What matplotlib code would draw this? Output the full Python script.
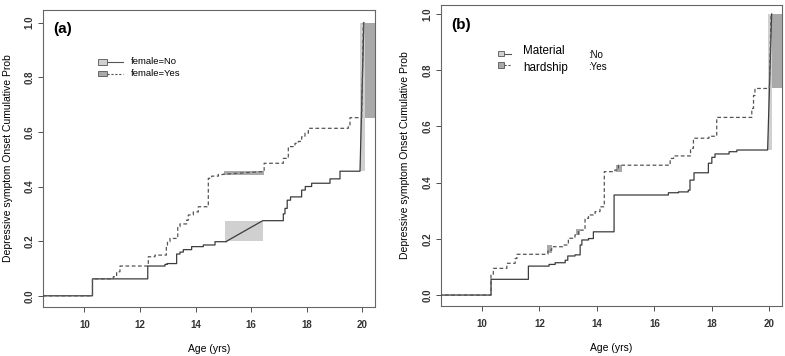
import matplotlib
matplotlib.use("Agg")
import matplotlib.pyplot as plt
from matplotlib.patches import Rectangle
from matplotlib.lines import Line2D

plt.rcParams["font.family"] = ["Liberation Sans", "DejaVu Sans"]

# panel (a): female = No / Yes  (step times, cumulative prob)
a_no_t = [8.5, 10.29, 12.28, 12.9, 12.98, 13.32, 13.44, 13.56, 13.86, 14.28, 14.7, 15.12,
          16.42, 17.16, 17.22, 17.3, 17.42, 17.82, 17.95, 18.18, 18.84, 19.2, 19.92, 20.06]
a_no_p = [0.0, 0.062, 0.109, 0.115, 0.118, 0.153, 0.16, 0.169, 0.18, 0.186, 0.198, 0.20,
          0.275, 0.30, 0.32, 0.35, 0.362, 0.387, 0.40, 0.412, 0.428, 0.456, 0.456, 1.0]
a_yes_t = [8.5, 10.29, 11.04, 11.16, 11.28, 12.3, 12.54, 12.95, 12.99, 13.08, 13.36, 13.44,
           13.68, 13.74, 13.92, 14.1, 14.46, 14.58, 14.82, 15.0, 16.45, 16.47, 17.16, 17.34,
           17.58, 17.7, 17.82, 17.94, 18.06, 19.5, 19.56, 19.98, 20.04]
a_yes_p = [0.0, 0.062, 0.07, 0.088, 0.109, 0.143, 0.149, 0.182, 0.198, 0.21, 0.253, 0.263,
           0.277, 0.296, 0.307, 0.326, 0.43, 0.438, 0.444, 0.445, 0.455, 0.485, 0.503, 0.546,
           0.558, 0.565, 0.582, 0.595, 0.613, 0.62, 0.652, 0.652, 1.0]
a_no_ramps = [12, 23]     # points joined by a straight segment instead of a step
a_yes_ramps = [20, 32]

# panel (b): material hardship = No / Yes
b_no_t = [8.5, 10.32, 11.62, 12.34, 12.55, 12.9, 12.99, 13.24, 13.42, 13.48, 13.71, 13.88,
          14.6, 16.49, 16.84, 17.18, 17.24, 17.38, 17.88, 18.0, 18.11, 18.6, 18.87, 19.94, 20.08]
b_no_p = [0.0, 0.056, 0.103, 0.109, 0.115, 0.124, 0.139, 0.143, 0.178, 0.196, 0.201, 0.225,
          0.356, 0.364, 0.367, 0.373, 0.409, 0.435, 0.469, 0.49, 0.502, 0.51, 0.516, 0.516, 1.0]
b_yes_t = [8.5, 10.32, 10.4, 10.87, 11.16, 11.22, 12.3, 12.43, 12.84, 13.01, 13.24, 13.36,
           13.59, 13.71, 13.94, 14.11, 14.26, 14.63, 14.75, 16.55, 16.67, 17.26, 17.36, 17.9,
           18.17, 19.39, 19.45, 19.5, 20.0, 20.06]
b_yes_p = [0.0, 0.071, 0.095, 0.113, 0.13, 0.145, 0.16, 0.172, 0.178, 0.202, 0.214, 0.231,
           0.273, 0.285, 0.297, 0.314, 0.439, 0.445, 0.462, 0.486, 0.495, 0.522, 0.558, 0.565,
           0.632, 0.664, 0.71, 0.735, 0.735, 1.0]
b_no_ramps = [24]
b_yes_ramps = [29]

# shaded boxes: (x0, x1, y0, y1, light?)
a_boxes = [(15.07, 16.42, 0.20, 0.275, True), (15.02, 16.45, 0.442, 0.458, False),
           (19.92, 20.1, 0.456, 1.0, True), (20.1, 21.0, 0.652, 1.0, False)]
b_boxes = [(19.94, 20.08, 0.516, 1.0, True), (20.08, 21.0, 0.735, 1.0, False),
           (12.26, 12.43, 0.148, 0.178, False), (13.28, 13.43, 0.214, 0.234, False),
           (14.66, 14.87, 0.439, 0.463, False)]

x_ticks = [10, 12, 14, 16, 18, 20]
y_ticks = [0.0, 0.2, 0.4, 0.6, 0.8, 1.0]
y_label = "Depressive symptom Onset Cumulative Prob"

LIGHT, DARK = "#d0d0d0", "#a9a9a9"
C_NO, C_YES = "#3c3c3c", "#555555"


def step_xy(t, p, ramps):
    xs, ys = [t[0]], [p[0]]
    for i in range(1, len(t)):
        if i in ramps:
            xs.append(t[i]); ys.append(p[i])
        else:
            xs += [t[i], t[i]]; ys += [p[i - 1], p[i]]
    return xs, ys


def panel(ax, tag, no, yes, boxes, xlim, ylim):
    for x0, x1, y0, y1, light in boxes:
        ax.add_patch(Rectangle((x0, y0), x1 - x0, y1 - y0, facecolor=LIGHT if light else DARK,
                               edgecolor="none", zorder=1))
    xs, ys = step_xy(*no)
    ax.plot(xs, ys, color=C_NO, lw=0.9, zorder=3)
    xs, ys = step_xy(*yes)
    ax.plot(xs, ys, color=C_YES, lw=0.9, dashes=(3, 2), zorder=3)
    ax.set_xlim(*xlim)
    ax.set_ylim(*ylim)
    ax.set_xticks(x_ticks)
    ax.set_xticklabels([str(v) for v in x_ticks], fontsize=7, fontweight="bold")
    ax.set_yticks(y_ticks)
    ax.set_yticklabels([f"{v:.1f}" for v in y_ticks], fontsize=7, fontweight="bold",
                       rotation=90, va="center")
    ax.tick_params(axis="x", direction="out", length=3.6, width=0.6, pad=6, colors="#333333")
    ax.tick_params(axis="y", direction="out", length=3.6, width=0.6, pad=2.5, colors="#333333")
    for s in ax.spines.values():
        s.set_color("#666666")
        s.set_linewidth(0.8)
    ax.set_xlabel("Age (yrs)", fontsize=7.5)
    ax.xaxis.set_label_coords(0.5, -0.14)
    ax.xaxis.label.set_va("center")
    ax.set_ylabel(y_label, fontsize=7.5)
    ax.yaxis.set_label_coords(-0.105, 0.5)
    ax.yaxis.label.set_va("center")
    ax.text(0.03, 0.935, tag, transform=ax.transAxes, fontsize=11, fontweight="bold",
            va="center", ha="left")


def legend_keys(ax, x0, ys, w, h, line_end):
    for y, col, dash in zip(ys, [LIGHT, DARK], [None, (2, 1.5)]):
        ax.add_patch(Rectangle((x0, y - h / 2), w, h, transform=ax.transAxes, facecolor=col,
                               edgecolor="#555555", lw=0.6, zorder=4))
        ln = Line2D([x0 + w, line_end], [y, y], transform=ax.transAxes, color="#555555", lw=0.8)
        if dash:
            ln.set_dashes(dash)
        ax.add_line(ln)


fig = plt.figure(figsize=(7.85, 3.56), dpi=100)
ax_a = fig.add_axes([0.0548, 0.1376, 0.4229, 0.8343])
ax_b = fig.add_axes([0.5614, 0.1404, 0.4344, 0.8456])

panel(ax_a, "(a)", (a_no_t, a_no_p, a_no_ramps), (a_yes_t, a_yes_p, a_yes_ramps), a_boxes,
      (8.51, 20.46), (-0.041, 1.046))
panel(ax_b, "(b)", (b_no_t, b_no_p, b_no_ramps), (b_yes_t, b_yes_p, b_yes_ramps), b_boxes,
      (8.57, 20.43), (-0.039, 1.032))

legend_keys(ax_a, 0.166, [0.825, 0.785], 0.027, 0.017, 0.241)
ax_a.text(0.265, 0.825, "female=No", transform=ax_a.transAxes, fontsize=6.8, va="center")
ax_a.text(0.265, 0.785, "female=Yes", transform=ax_a.transAxes, fontsize=6.8, va="center")

legend_keys(ax_b, 0.167, [0.838, 0.801], 0.019, 0.018, 0.206)
ax_b.text(0.241, 0.847, "Material", transform=ax_b.transAxes, fontsize=8.4, va="center")
ax_b.text(0.241, 0.790, "hardship", transform=ax_b.transAxes, fontsize=8.4, va="center")
ax_b.text(0.432, 0.835, ":No", transform=ax_b.transAxes, fontsize=7, va="center")
ax_b.text(0.432, 0.794, ":Yes", transform=ax_b.transAxes, fontsize=7, va="center")

fig.savefig("out.png", dpi=100)
